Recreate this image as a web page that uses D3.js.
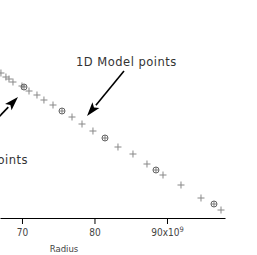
<!DOCTYPE html>
<html>
<head>
<meta charset="utf-8">
<script src="https://cdn.jsdelivr.net/npm/d3@7"></script>
<style>
  html, body { margin: 0; padding: 0; background: #fff; }
  svg { display: block; }
</style>
</head>
<body>
<div id="chart"></div>
<script>

    // radius (x10^9) and value for the 1D model points (plus markers)
    const modelRadius = [67.10, 67.79, 68.21, 68.76, 70.0, 70.97, 72.07, 73.03, 74.28,
        76.90, 78.28, 79.79, 83.24, 85.31, 87.24, 89.45, 91.93, 94.69, 97.45];
    const modelValue = [72.5, 70.5, 69.5, 68, 66, 63.5, 61.5, 59, 56.5,
        50.5, 47, 43.5, 35.5, 32, 27, 21.5, 16.5, 10, 4];

    // the circled points
    const circRadius = [70.28, 75.52, 81.45, 88.48, 96.48];
    const circValue = [65.5, 53.5, 40, 24, 7];

    const tickValues = [70, 80, 90];
    const tickLabels = ["70", "80", "90x10"];

    const width = 257, height = 255;

    const svg = d3.select("#chart").append("svg")
        .attr("width", width).attr("height", height);

    const x = d3.scaleLinear().domain([66.97, 98]).range([0, 225]);
    const y = d3.scaleLinear().domain([0, 100]).range([218, 18]);

    // x axis
    const axis = d3.axisBottom(x)
        .tickValues(tickValues)
        .tickSize(6)
        .tickSizeOuter(0)
        .tickPadding(5)
        .tickFormat(function (d, i) { return tickLabels[i]; });

    const gx = svg.append("g")
        .attr("transform", "translate(0," + y(0) + ")")
        .call(axis);

    gx.select(".domain").attr("stroke", "#000").attr("stroke-width", 1);
    gx.selectAll(".tick line").attr("stroke", "#000");
    gx.selectAll(".tick text")
        .attr("fill", "#444")
        .style("font-family", "DejaVu Sans Condensed, DejaVu Sans")
        .style("font-size", "10px");

    // superscript exponent on the last label
    gx.selectAll(".tick text").filter(function (d) { return d === 90; })
        .append("tspan")
        .attr("dy", "-0.55em")
        .style("font-size", "7.5px")
        .text("9");

    svg.append("text")
        .attr("x", 64).attr("y", 252)
        .attr("text-anchor", "middle")
        .attr("fill", "#444")
        .style("font-family", "DejaVu Sans Condensed, DejaVu Sans")
        .style("font-size", "9.5px")
        .text("Radius");

    // plus markers
    const plusSize = 3.5;
    svg.append("g").selectAll("path")
        .data(d3.zip(modelRadius, modelValue))
        .enter().append("path")
        .attr("d", function (d) {
            const cx = x(d[0]), cy = y(d[1]);
            return "M" + (cx - plusSize) + "," + cy + "H" + (cx + plusSize) +
                "M" + cx + "," + (cy - plusSize) + "V" + (cy + plusSize);
        })
        .attr("stroke", "#888")
        .attr("stroke-width", 1)
        .attr("fill", "none");

    // circled markers
    const circ = svg.append("g").selectAll("g")
        .data(d3.zip(circRadius, circValue))
        .enter().append("g")
        .attr("transform", function (d) { return "translate(" + x(d[0]) + "," + y(d[1]) + ")"; });
    circ.append("circle").attr("r", 3)
        .attr("fill", "none").attr("stroke", "#666").attr("stroke-width", 1);
    circ.append("path").attr("d", "M-3,0H3M0,-3V3")
        .attr("stroke", "#666").attr("stroke-width", 0.8);

    // annotations: arrows with filled heads
    function arrow(x1, y1, x2, y2) {
        const ax = x(x1), ay = y(y1), bx = x(x2), by = y(y2);
        const dx = bx - ax, dy = by - ay;
        const len = Math.sqrt(dx * dx + dy * dy);
        const ux = dx / len, uy = dy / len;
        const headLen = 14, headW = 4.5;
        const baseX = bx - ux * headLen, baseY = by - uy * headLen;
        svg.append("line")
            .attr("x1", ax).attr("y1", ay).attr("x2", baseX).attr("y2", baseY)
            .attr("stroke", "#000").attr("stroke-width", 1.6);
        svg.append("path")
            .attr("d", "M" + bx + "," + by +
                "L" + (baseX - uy * headW) + "," + (baseY + ux * headW) +
                "L" + (baseX + ux * 3) + "," + (baseY + uy * 3) +
                "L" + (baseX + uy * headW) + "," + (baseY - ux * headW) + "Z")
            .attr("fill", "#000");
    }

    arrow(84.07, 73.5, 78.97, 51);
    arrow(66.28, 48.5, 69.45, 60.5);

    svg.append("text")
        .attr("x", x(77.45)).attr("y", y(76))
        .attr("fill", "#333")
        .style("font-family", "DejaVu Sans")
        .style("font-size", "11.5px")
        .style("letter-spacing", "0.5px")
        .text("1D Model points");

    svg.append("text")
        .attr("x", x(70.83)).attr("y", y(27))
        .attr("text-anchor", "end")
        .attr("fill", "#333")
        .style("font-family", "DejaVu Sans")
        .style("font-size", "11.5px")
        .style("letter-spacing", "0.5px")
        .text("3D Model points");

</script>
</body>
</html>
